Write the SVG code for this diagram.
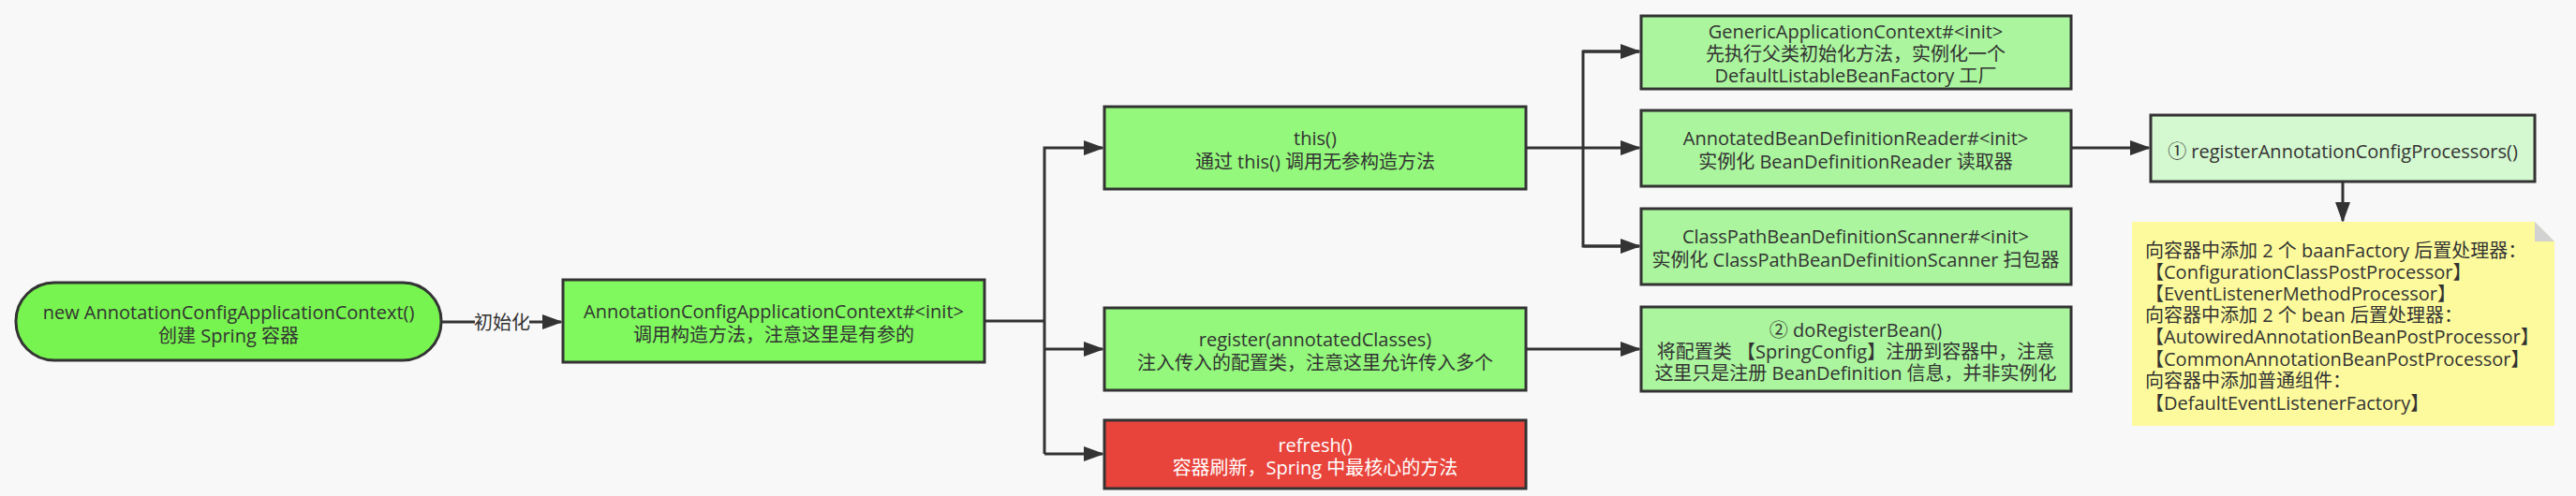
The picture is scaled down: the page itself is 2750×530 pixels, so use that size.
<svg xmlns="http://www.w3.org/2000/svg" width="2750" height="530" viewBox="0 0 2750 530">
<style>
.bx{stroke:#333;stroke-width:3}
.t{font-family:"Open Sans","Noto Sans CJK SC",sans-serif;font-size:20px;fill:#333;text-anchor:middle;dominant-baseline:central}
.w{fill:#ffffff}
.n{font-family:"Open Sans","Noto Sans CJK SC",sans-serif;font-size:20px;fill:#333;dominant-baseline:central}
.ln{fill:none;stroke:#333;stroke-width:3}
</style>
<defs>
<marker id="ah" markerUnits="userSpaceOnUse" markerWidth="22" markerHeight="16" refX="20" refY="8" orient="auto">
<path d="M0,0 L22,8 L0,16 Z" fill="#333"/>
</marker>
</defs>
<rect width="2750" height="530" fill="#f8f8f8"/>
<g id="connectors">
<line class="ln" x1="471" y1="344" x2="599" y2="344" marker-end="url(#ah)"/>
<rect x="507" y="332" width="58" height="24" fill="#f8f8f8"/>
<text class="t" x="536" y="344">初始化</text>
<polyline class="ln" points="1051,343 1115,343"/>
<polyline class="ln" points="1115,485 1115,158 1177,158" marker-end="url(#ah)"/>
<line class="ln" x1="1115" y1="373" x2="1177" y2="373" marker-end="url(#ah)"/>
<line class="ln" x1="1115" y1="485" x2="1177" y2="485" marker-end="url(#ah)"/>
<line class="ln" x1="1629" y1="158" x2="1750" y2="158" marker-end="url(#ah)"/>
<polyline class="ln" points="1750,55 1690,55 1690,263 1750,263"/>
<line class="ln" x1="1690" y1="55" x2="1750" y2="55" marker-end="url(#ah)"/>
<line class="ln" x1="1690" y1="263" x2="1750" y2="263" marker-end="url(#ah)"/>
<line class="ln" x1="1629" y1="373" x2="1750" y2="373" marker-end="url(#ah)"/>
<line class="ln" x1="2211" y1="158" x2="2294" y2="158" marker-end="url(#ah)"/>
<line class="ln" x1="2501" y1="194" x2="2501" y2="236" marker-end="url(#ah)"/>
</g>
<g id="n-new">
<rect class="bx" x="17" y="302" width="454" height="83" rx="41" fill="#77f44f"/>
<text class="t" x="244" y="333">new AnnotationConfigApplicationContext()</text>
<text class="t" x="244" y="358">创建 Spring 容器</text>
</g>
<g id="n-init">
<rect class="bx" x="601" y="299" width="450" height="88" fill="#80f95e"/>
<text class="t" x="826" y="332">AnnotationConfigApplicationContext#&lt;init&gt;</text>
<text class="t" x="826" y="357">调用构造方法，注意这里是有参的</text>
</g>
<g id="n-this">
<rect class="bx" x="1179" y="114" width="450" height="88" fill="#93f87b"/>
<text class="t" x="1404" y="147">this()</text>
<text class="t" x="1404" y="172">通过 this() 调用无参构造方法</text>
</g>
<g id="n-register">
<rect class="bx" x="1179" y="329" width="450" height="88" fill="#93f87b"/>
<text class="t" x="1404" y="362">register(annotatedClasses)</text>
<text class="t" x="1404" y="387">注入传入的配置类，注意这里允许传入多个</text>
</g>
<g id="n-refresh">
<rect class="bx" x="1179" y="449" width="450" height="73" fill="#e8443c"/>
<text class="t w" x="1404" y="475">refresh()</text>
<text class="t w" x="1404" y="499">容器刷新，Spring 中最核心的方法</text>
</g>
<g id="n-generic">
<rect class="bx" x="1752" y="17" width="459" height="78" fill="#aaf59d"/>
<text class="t" x="1981" y="33">GenericApplicationContext#&lt;init&gt;</text>
<text class="t" x="1981" y="57">先执行父类初始化方法，实例化一个</text>
<text class="t" x="1981" y="80">DefaultListableBeanFactory 工厂</text>
</g>
<g id="n-reader">
<rect class="bx" x="1752" y="118" width="459" height="81" fill="#aaf59d"/>
<text class="t" x="1981" y="147">AnnotatedBeanDefinitionReader#&lt;init&gt;</text>
<text class="t" x="1981" y="172">实例化 BeanDefinitionReader 读取器</text>
</g>
<g id="n-scanner">
<rect class="bx" x="1752" y="223" width="459" height="81" fill="#aaf59d"/>
<text class="t" x="1981" y="252">ClassPathBeanDefinitionScanner#&lt;init&gt;</text>
<text class="t" x="1981" y="277">实例化 ClassPathBeanDefinitionScanner 扫包器</text>
</g>
<g id="n-doregister">
<rect class="bx" x="1752" y="328" width="459" height="90" fill="#aaf59d"/>
<text class="t" x="1981" y="352">② doRegisterBean()</text>
<text class="t" x="1981" y="375">将配置类 【SpringConfig】注册到容器中，注意</text>
<text class="t" x="1981" y="398">这里只是注册 BeanDefinition 信息，并非实例化</text>
</g>
<g id="n-processors">
<rect class="bx" x="2296" y="123" width="410" height="71" fill="#d4f8cf"/>
<text class="t" x="2501" y="161">① registerAnnotationConfigProcessors()</text>
</g>
<g id="n-note">
<path d="M2276,237 H2706 L2727,258 V455 H2276 Z" fill="#fcfa9c"/>
<path d="M2706,237 V258 H2727 Z" fill="#d2d2d2"/>
<text class="n" x="2290" y="267">向容器中添加 2 个 baanFactory 后置处理器：</text>
<text class="n" x="2290" y="290">【ConfigurationClassPostProcessor】</text>
<text class="n" x="2290" y="313">【EventListenerMethodProcessor】</text>
<text class="n" x="2290" y="336">向容器中添加 2 个 bean 后置处理器：</text>
<text class="n" x="2290" y="359">【AutowiredAnnotationBeanPostProcessor】</text>
<text class="n" x="2290" y="383">【CommonAnnotationBeanPostProcessor】</text>
<text class="n" x="2290" y="406">向容器中添加普通组件：</text>
<text class="n" x="2290" y="430">【DefaultEventListenerFactory】</text>
</g>
</svg>
